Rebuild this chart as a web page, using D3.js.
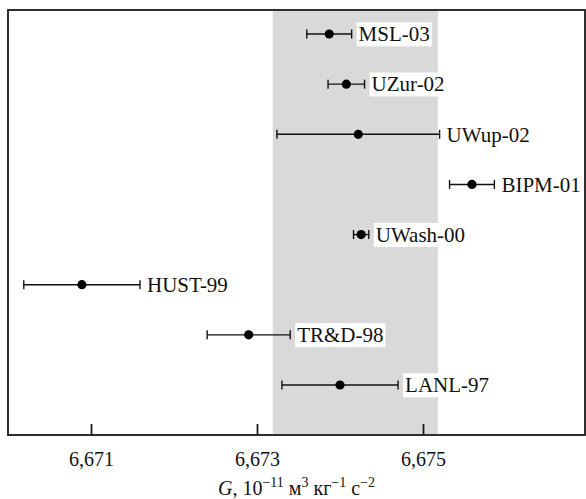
<!DOCTYPE html>
<html><head><meta charset="utf-8">
<script src="https://cdn.jsdelivr.net/npm/d3@7"></script>
<style>body{margin:0;background:#fff}svg{display:block}</style>
</head><body><svg id="c" width="586" height="499"></svg>
<script>
const labels = ["MSL-03","UZur-02","UWup-02","BIPM-01","UWash-00","HUST-99","TR&D-98","LANL-97"];
const values = [6.67387,6.674076,6.67422,6.67559,6.674255,6.67089,6.6729,6.6740];
const errors = [0.00027,0.00022,0.00098,0.00027,0.000092,0.0007,0.0005,0.0007];
const bandRange = [6.67319,6.67518];
const tickValues = [6.671,6.673,6.675];
const xDomain = [6.670,6.677];

const FONT = "'Liberation Serif', 'Times New Roman', Times, serif";
const svg = d3.select("#c").style("font-family",FONT);
const L=8, R=585, T=10, B=435;
const x = d3.scaleLinear().domain(xDomain).range([L, L+581]);
const y = d3.scalePoint().domain(labels).range([34,385]);

svg.append("rect").attr("x",x(bandRange[0])).attr("y",T).attr("width",x(bandRange[1])-x(bandRange[0])).attr("height",B-T).attr("fill","#d9d9d9");

const g = svg.selectAll("g.pt").data(labels.map((l,i)=>({l,v:values[i],e:errors[i]}))).join("g");
g.append("line").attr("x1",d=>x(d.v-d.e)).attr("x2",d=>x(d.v+d.e)).attr("y1",d=>y(d.l)).attr("y2",d=>y(d.l)).attr("stroke","#111").attr("stroke-width",1.4);
g.append("line").attr("x1",d=>x(d.v-d.e)).attr("x2",d=>x(d.v-d.e)).attr("y1",d=>y(d.l)-4.5).attr("y2",d=>y(d.l)+4.5).attr("stroke","#111").attr("stroke-width",1.4);
g.append("line").attr("x1",d=>x(d.v+d.e)).attr("x2",d=>x(d.v+d.e)).attr("y1",d=>y(d.l)-4.5).attr("y2",d=>y(d.l)+4.5).attr("stroke","#111").attr("stroke-width",1.4);
g.append("circle").attr("cx",d=>x(d.v)).attr("cy",d=>y(d.l)).attr("r",4.6).attr("fill","#000");
g.each(function(d){
  const gg=d3.select(this);
  const t=gg.append("text").attr("x",x(d.v+d.e)+7).attr("y",y(d.l)).attr("dy","0.35em").attr("font-size",21).attr("font-family",FONT).attr("fill","#111").text(d.l);
  const bb=t.node().getBBox();
  gg.insert("rect","text").attr("x",bb.x-2).attr("y",bb.y).attr("width",bb.width+4).attr("height",bb.height).attr("fill","#fff");
});

svg.append("rect").attr("x",L).attr("y",T).attr("width",R-L).attr("height",B-T).attr("fill","none").attr("stroke","#1a1a1a").attr("stroke-width",1.8);

const ax = svg.append("g").attr("transform",`translate(0,${B})`)
  .call(d3.axisBottom(x).tickValues(tickValues).tickSize(-11).tickPadding(17).tickFormat(d=>d3.format(".3f")(d).replace(".",",")));
ax.attr("font-family",FONT);
ax.select(".domain").remove();
ax.selectAll(".tick line").attr("stroke","#1a1a1a").attr("stroke-width",1.8);
ax.selectAll(".tick text").attr("font-size",20).attr("fill","#111");

const title = svg.append("text").attr("x",(L+R)/2).attr("y",495).attr("text-anchor","middle").attr("font-size",20).attr("font-family",FONT).attr("fill","#111");
title.append("tspan").attr("font-style","italic").text("G");
title.append("tspan").text(", 10");
title.append("tspan").attr("font-size",14).attr("dy",-8).text("−11");
title.append("tspan").attr("dy",8).text(" м");
title.append("tspan").attr("font-size",14).attr("dy",-8).text("3");
title.append("tspan").attr("dy",8).text(" кг");
title.append("tspan").attr("font-size",14).attr("dy",-8).text("−1");
title.append("tspan").attr("dy",8).text(" с");
title.append("tspan").attr("font-size",14).attr("dy",-8).text("−2");
</script></body></html>
